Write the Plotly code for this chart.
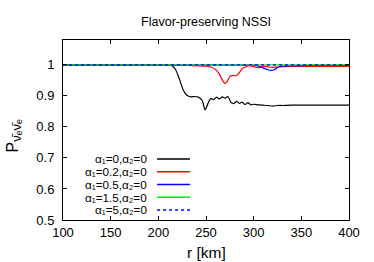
import plotly.graph_objects as go

r_black = [100, 210, 214, 218, 222, 226, 230, 234, 238, 242, 246, 249, 252, 255, 258, 261, 264, 267, 270, 273, 276,
           279, 282, 285, 288, 291, 294, 297, 300, 305, 310, 315, 320, 325, 330, 340, 360, 400]
p_black = [1.0, 1.0, 0.998, 0.985, 0.955, 0.92, 0.902, 0.897, 0.898, 0.896, 0.885, 0.855, 0.875, 0.892, 0.888, 0.896,
           0.89, 0.897, 0.893, 0.898, 0.88, 0.875, 0.882, 0.876, 0.88, 0.872, 0.878, 0.871, 0.873, 0.871, 0.87, 0.869,
           0.867, 0.869, 0.869, 0.87, 0.87, 0.87]

r_red = [100, 230, 240, 250, 255, 260, 264, 267, 270, 272, 275, 278, 282, 285, 288, 292, 296, 300, 304, 308, 312,
         316, 320, 330, 340, 400]
p_red = [1.0, 0.999, 0.997, 0.996, 0.993, 0.985, 0.97, 0.952, 0.94, 0.945, 0.962, 0.966, 0.965, 0.975, 0.988, 0.994,
         0.997, 0.994, 0.991, 0.993, 0.996, 0.993, 0.992, 0.994, 0.995, 0.995]

r_blue = [100, 148, 300, 305, 310, 315, 318, 322, 326, 330, 340, 360, 400]
p_blue = [1.0, 0.999, 0.999, 0.996, 0.99, 0.984, 0.982, 0.985, 0.993, 0.996, 0.997, 0.998, 0.998]

r_green = [100, 400]
p_green = [1.0, 1.0]

r_dot = [100, 400]
p_dot = [1.0, 1.0]

labels = ["α₁=0,α₂=0", "α₁=0.2,α₂=0", "α₁=0.5,α₂=0", "α₁=1.5,α₂=0", "α₁=5,α₂=0"]
colors = ["#000000", "#ff0000", "#0000ff", "#00ee00", "#0000ff"]
dashes = ["solid", "solid", "solid", "solid", "dot"]

series = [(r_black, p_black), (r_red, p_red), (r_blue, p_blue), (r_green, p_green), (r_dot, p_dot)]

fig = go.Figure()
for (rx, py), lab, c, d in zip(series, labels, colors, dashes):
    fig.add_trace(go.Scatter(x=rx, y=py, mode="lines", name=lab, showlegend=False,
                             line=dict(color=c, width=1.2, dash=d, shape="spline", smoothing=0.6)))

font = "Liberation Sans, Arial, sans-serif"
leg_y = [0.3389, 0.2681, 0.1972, 0.1264, 0.0556]
for lab, c, d, yy in zip(labels, colors, dashes, leg_y):
    fig.add_annotation(x=0.296, y=yy, xref="paper", yref="paper", text=lab, showarrow=False,
                       xanchor="right", yanchor="middle", borderpad=0,
                       font=dict(size=11.7, color="#000000", family=font))
    fig.add_shape(type="line", xref="paper", yref="paper", x0=0.329, x1=0.444, y0=yy, y1=yy,
                  line=dict(color=c, width=1.5, dash=d))

# axis titles
fig.add_annotation(x=0.5, y=-0.183, xref="paper", yref="paper", text="r [km]", showarrow=False,
                   xanchor="center", yanchor="middle", font=dict(size=15.5, family=font))
fig.add_annotation(x=-0.171, y=0.47, xref="paper", yref="paper", text="P<sub><span style='font-size:13px'>ν̄ₑν̄ₑ</span></sub>",
                   showarrow=False, textangle=-90, xanchor="center", yanchor="middle",
                   font=dict(size=16, family=font))

fig.update_layout(
    width=374, height=262,
    margin=dict(l=63, r=25, t=40, b=42),
    paper_bgcolor="white", plot_bgcolor="white",
    font=dict(family=font, size=13, color="#000000"),
    title=dict(text="Flavor-preserving NSSI", x=0.551, xanchor="center", y=0.918, yanchor="middle",
               font=dict(size=12.5)),
)
fig.update_xaxes(range=[100, 400], tickvals=[100, 150, 200, 250, 300, 350, 400],
                 ticks="inside", ticklen=4, tickcolor="black", showline=True, linecolor="black", linewidth=1,
                 mirror="ticks", showgrid=False, zeroline=False, tickfont=dict(size=13))
fig.update_yaxes(range=[0.5, 1.08], tickvals=[0.5, 0.6, 0.7, 0.8, 0.9, 1.0], ticktext=["0.5", "0.6", "0.7", "0.8", "0.9", "1"],
                 ticks="inside", ticklen=4, tickcolor="black", showline=True, linecolor="black", linewidth=1,
                 mirror="ticks", showgrid=False, zeroline=False, tickfont=dict(size=13), ticklabelstandoff=5)

fig.write_html("out.html", config={"displayModeBar": False},
               post_script="document.body.style.margin='0';document.body.style.padding='0';")
